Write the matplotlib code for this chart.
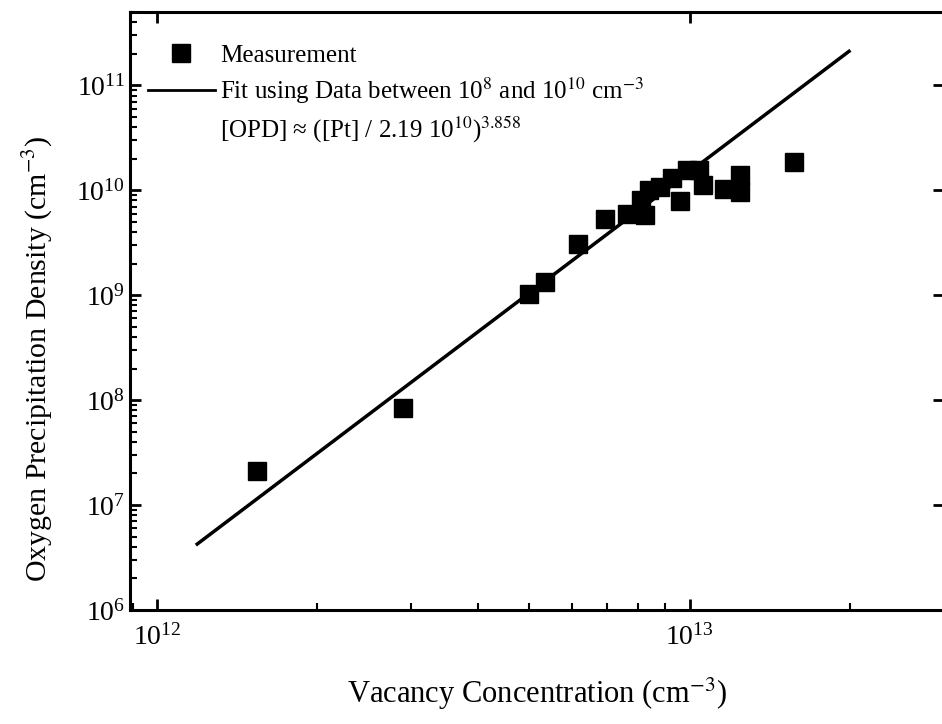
import matplotlib
matplotlib.use('Agg')
import matplotlib.pyplot as plt
from matplotlib.lines import Line2D
from matplotlib.ticker import LogLocator, NullFormatter

plt.rcParams['font.family'] = ['Liberation Serif', 'DejaVu Serif']
plt.rcParams['mathtext.fontset'] = 'stix'

# measured points (vacancy conc. cm^-3, OPD cm^-3)
vac = [1.54e12, 2.9e12, 5.0e12, 5.34e12, 6.16e12, 6.92e12, 7.62e12, 8.24e12,
       8.1e12, 8.4e12, 8.8e12, 9.25e12, 9.6e12, 9.9e12, 1.04e13, 1.06e13,
       1.16e13, 1.24e13, 1.24e13, 1.57e13]
opd = [2.1e7, 8.4e7, 1.02e9, 1.33e9, 3.06e9, 5.3e9, 6.0e9, 5.8e9,
       8.0e9, 1.0e10, 1.07e10, 1.3e10, 7.9e9, 1.55e10, 1.55e10, 1.12e10,
       1.02e10, 1.39e10, 9.6e9, 1.85e10]

# fit line end points
fit_x = [1.19e12, 1.99e13]
fit_y = [4.25e6, 2.11e11]

fig = plt.figure(figsize=(9.42, 7.24), dpi=100)
ax = fig.add_axes([130/942, 114/724, 814/942, 598/724])

ax.plot(vac, opd, 's', color='black', ms=13, label='Measurement')
ax.plot(fit_x, fit_y, '-', color='black', lw=2.5)

ax.set_xscale('log')
ax.set_yscale('log')
ax.set_xlim(8.9e11, 3.0e13)
ax.set_ylim(1e6, 5e11)

ax.xaxis.set_minor_locator(LogLocator(base=10, subs=range(2, 10)))
ax.yaxis.set_minor_locator(LogLocator(base=10, subs=range(2, 10)))
ax.xaxis.set_minor_formatter(NullFormatter())
ax.yaxis.set_minor_formatter(NullFormatter())

for s in ax.spines.values():
    s.set_linewidth(2.2)
ax.tick_params(which='major', direction='in', length=8, width=2, labelsize=20,
               right=True, top=True)
ax.tick_params(which='minor', direction='in', length=5, width=1.5,
               right=False, top=False)
ax.tick_params(axis='x', pad=10)

ax.set_xlabel('Vacancy Concentration (cm$^{-3}$)', fontsize=22, labelpad=18)
ax.set_ylabel('Oxygen Precipitation Density (cm$^{-3}$)', fontsize=21.5)
ax.yaxis.set_label_coords(-0.092, 0.42)

handles = [Line2D([], [], marker='s', color='black', ls='none', ms=13),
           Line2D([], [], color='black', lw=2),
           Line2D([], [], ls='none')]
labels = ['Measurement',
          'Fit using Data between 10$^{8}$ and 10$^{10}$ cm$^{-3}$',
          '[OPD] \u2248 ([Pt] / 2.19 10$^{10}$)$^{3.858}$']
ax.legend(handles, labels, loc='upper left', frameon=False, fontsize=18,
          handlelength=2.7, handletextpad=0.2, labelspacing=0.35,
          borderaxespad=0.3, bbox_to_anchor=(0.0, 0.975))

fig.savefig('out.png', dpi=100)
